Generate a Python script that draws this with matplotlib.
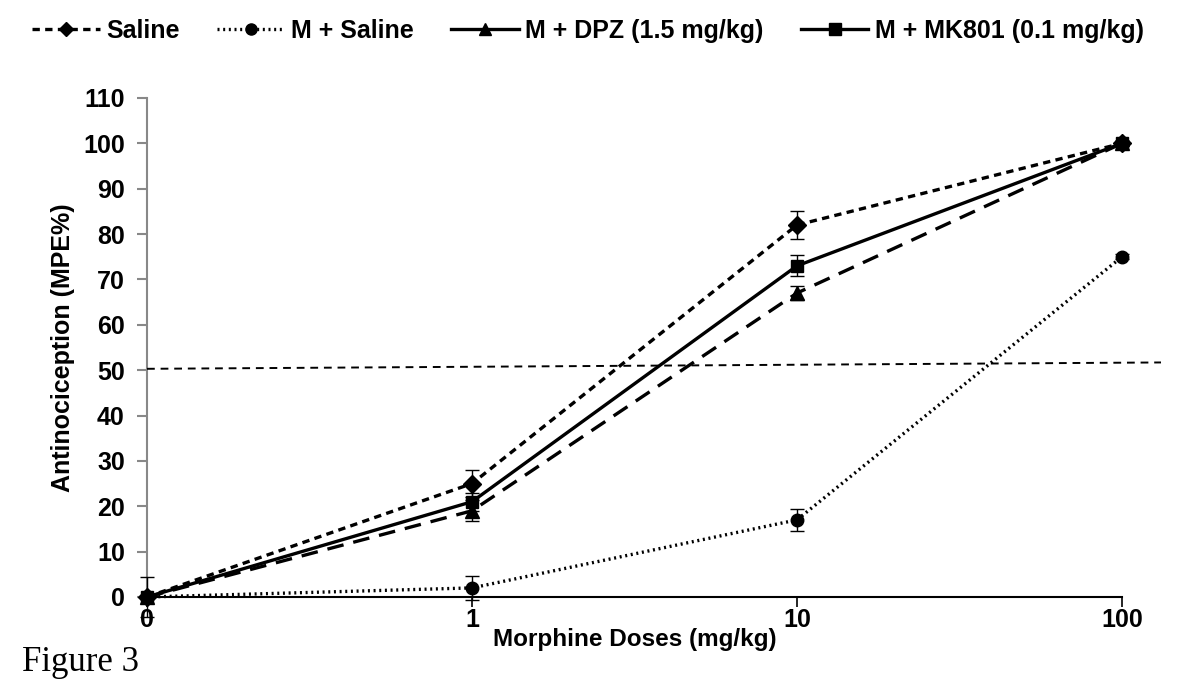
import matplotlib
matplotlib.use("Agg")
import matplotlib.pyplot as plt
from matplotlib.lines import Line2D

plt.rcParams['font.family'] = ['Liberation Sans', 'DejaVu Sans']

# data
doses = ["0", "1", "10", "100"]
saline = [0, 25, 82, 100]
saline_err = [4.5, 3, 3, 0.5]
m_saline = [0, 2, 17, 75]
m_saline_err = [0, 2.6, 2.5, 0.5]
m_dpz = [0, 19, 67, 100]
m_dpz_err = [0, 2.3, 1.5, 0.5]
m_mk801 = [0, 21, 73, 100]
m_mk801_err = [0, 2, 2.3, 0.5]
ref_line = [50.3, 51.7]   # the ED50 guide line, start / end

x = list(range(len(doses)))

fig = plt.figure(figsize=(12, 6.94), dpi=100)
ax = fig.add_axes([0.1225, 0.1398, 0.8125, 0.719])

lw = 2.4
ekw = dict(ecolor='black', elinewidth=1, capsize=5, capthick=1)

ax.errorbar(x, saline, yerr=saline_err, color='black', lw=lw, ls=(0, (2.2, 1.6)),
            marker='D', ms=9, clip_on=False, zorder=4, **ekw)
ax.errorbar(x, m_saline, yerr=m_saline_err, color='black', lw=lw, ls=(0, (0.6, 1.1)),
            marker='o', ms=9, clip_on=False, zorder=4, **ekw)
ax.errorbar(x, m_dpz, yerr=m_dpz_err, color='black', lw=lw, ls=(0, (5, 3)),
            marker='^', ms=10, clip_on=False, zorder=4, **ekw)
ax.errorbar(x, m_mk801, yerr=m_mk801_err, color='black', lw=lw, ls='-',
            marker='s', ms=9, clip_on=False, zorder=4, **ekw)

# 50% guide line (runs a bit past the last dose)
ax.plot([0, 3.12], ref_line, color='black', lw=1.4, ls=(0, (4, 3)), clip_on=False, zorder=3)

ax.set_xlim(0, 3)
ax.set_ylim(0, 110)
ax.set_xticks(x)
ax.set_xticklabels(doses)
ax.set_yticks(range(0, 111, 10))

for s in ['top', 'right']:
    ax.spines[s].set_visible(False)
ax.spines['left'].set_color('#888888')
ax.spines['left'].set_linewidth(1.5)
ax.spines['bottom'].set_color('black')
ax.spines['bottom'].set_linewidth(1.5)
ax.tick_params(axis='y', colors='#888888', length=7, width=1.5, labelcolor='black', pad=9)
ax.tick_params(axis='x', length=7, width=1.2, pad=1)
for lab in ax.get_xticklabels() + ax.get_yticklabels():
    lab.set_fontsize(18)
    lab.set_fontweight('bold')

ax.set_xlabel("Morphine Doses (mg/kg)", fontsize=17.5, fontweight='bold', labelpad=-3)
ax.set_ylabel("Antinociception (MPE%)", fontsize=18, fontweight='bold', labelpad=6)

handles = [
    Line2D([], [], color='black', lw=lw, ls=(0, (2.2, 1.6)), marker='D', ms=7),
    Line2D([], [], color='black', lw=lw, ls=(0, (0.6, 1.1)), marker='o', ms=8),
    Line2D([], [], color='black', lw=lw, ls='-', marker='^', ms=8),
    Line2D([], [], color='black', lw=lw, ls='-', marker='s', ms=8),
]
labels = ["Saline", "M + Saline", "M + DPZ (1.5 mg/kg)", "M + MK801 (0.1 mg/kg)"]
fig.legend(handles, labels, loc='upper center', bbox_to_anchor=(0.49, 1.005), ncol=4,
           frameon=False, handlelength=2.7, handletextpad=0.25, columnspacing=1.5,
           prop={'weight': 'bold', 'size': 18})

fig.text(0.018, 0.045, "Figure 3", family='Liberation Serif', fontsize=25, va='center')

fig.savefig("out.png", dpi=100)
